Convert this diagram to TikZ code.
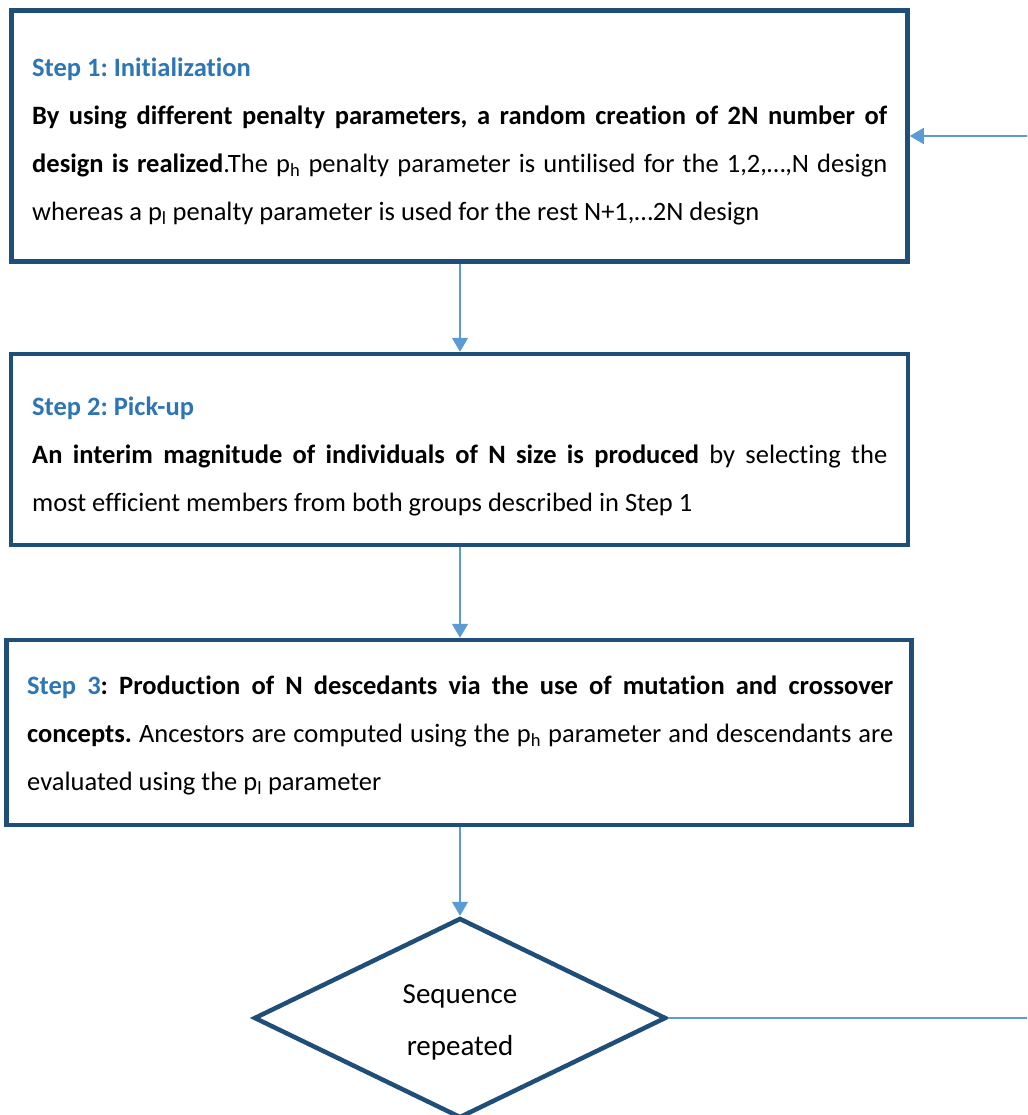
\documentclass[tikz,border=0pt]{standalone}
\usepackage{fontspec}
\setmainfont[Ligatures=NoCommon]{Carlito}
\usetikzlibrary{shapes.geometric,arrows.meta}
\definecolor{boxblue}{HTML}{1F4E79}
\definecolor{linkblue}{HTML}{5B9BD5}
\definecolor{headblue}{HTML}{2E75B6}
\frenchspacing
\begin{document}
\begin{tikzpicture}[x=1pt,y=-1pt,
  stepbox/.style={draw=boxblue,line width=4.5pt,rectangle,inner sep=0pt},
  textblock/.style={inner sep=0pt,anchor=base west,font=\fontsize{26.5}{48}\selectfont},
  decision/.style={draw=boxblue,line width=4.5pt,diamond,inner sep=0pt,
    minimum width=412pt,minimum height=200pt},
  diatext/.style={inner sep=0pt,anchor=base,font=\fontsize{29}{52}\selectfont},
  link/.style={draw=linkblue,line width=1.5pt,-{Triangle[width=16pt,length=14pt]}}]
\useasboundingbox (0,0) rectangle (1027,1115);
\clip (0,0) rectangle (1027,1115);
\fill[white] (0,0) rectangle (1027,1115);

\node[stepbox,minimum width=896pt,minimum height=251pt] (s1) at (459.5,136) {};
\node[textblock] (t1) at (32,76.5) {\parbox[t]{855pt}{\leavevmode
  {\bfseries\color{headblue}Step 1: Initialization}\\
  \makebox[855pt][s]{\bfseries By using different penalty parameters, a random creation of 2N number of}\\
  \makebox[855pt][s]{\textbf{design is realized}.The p\textsubscript{h} penalty parameter is untilised for the 1,2,…,N design}\\
  whereas a p\textsubscript{l} penalty parameter is used for the rest N+1,…2N design}};

\node[stepbox,minimum width=897pt,minimum height=191pt] (s2) at (459.5,449.5) {};
\node[textblock] (t2) at (32,415.5) {\parbox[t]{855pt}{\leavevmode
  {\bfseries\color{headblue}Step 2: Pick-up}\\
  \makebox[855pt][s]{\textbf{An interim magnitude of individuals of N size is produced} by selecting the}\\
  most efficient members from both groups described in Step 1}};

\node[stepbox,minimum width=905pt,minimum height=185pt] (s3) at (459,732.5) {};
\node[textblock] (t3) at (27,694.5) {\parbox[t]{866pt}{\leavevmode
  \makebox[866pt][s]{\bfseries{\color{headblue}Step 3}: Production of N descedants via the use of mutation and crossover}\\
  \makebox[866pt][s]{\textbf{concepts.} Ancestors are computed using the p\textsubscript{h} parameter and descendants are}\\
  evaluated using the p\textsubscript{l} parameter}};

\node[decision] (d) at (460,1018) {};
\node[diatext] (dt) at (460,1003.5) {\parbox[t]{200pt}{\leavevmode\centering Sequence\\repeated}};

\draw[link] (s1.south -| 460,0) -- (s2.north -| 460,0);
\draw[link] (s2.south -| 460,0) -- (s3.north -| 460,0);
\draw[link] (s3.south -| 460,0) -- (d.north);
\draw[link] (d.east) -- (1045,1018) |- (s1.east);
\end{tikzpicture}
\end{document}
